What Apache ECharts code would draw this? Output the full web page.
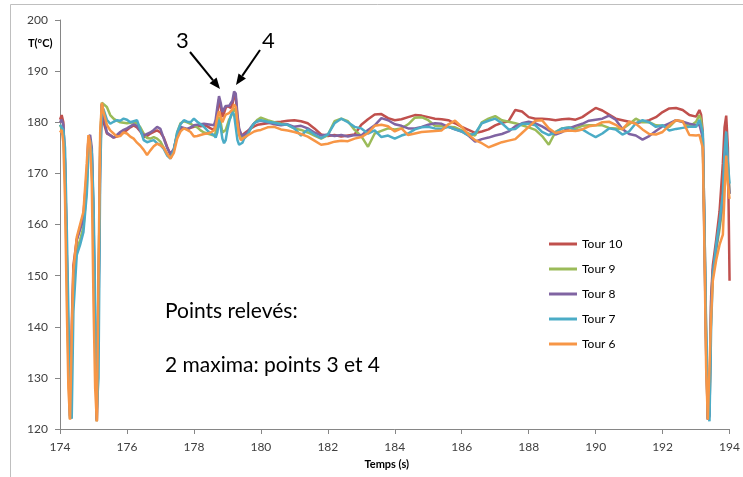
<!DOCTYPE html>
<html><head><meta charset="utf-8">
<script src="https://cdn.jsdelivr.net/npm/echarts@6/dist/echarts.min.js"></script>
<style>html,body{margin:0;padding:0;background:#fff}#c{width:743px;height:477px}</style>
</head><body><div id="c"></div>
<script>
// Time axis (s)
const timeS = [174,174.05,174.1,174.15,174.2,174.25,174.3,174.35,174.4,174.5,174.6,174.7,174.8,174.85,174.9,174.95,175,175.05,175.1,175.15,175.2,175.25,175.3,175.4,
175.5,175.6,175.7,175.8,175.9,176,176.1,176.2,176.3,176.4,176.5,176.6,176.7,176.8,176.9,177,177.1,177.2,177.3,177.4,177.5,177.6,177.7,177.8,177.9,178,178.1,178.2,178.3,178.4,178.5,
178.55,178.6,178.65,178.7,178.75,178.8,178.85,178.9,178.95,179,179.05,179.1,179.15,179.2,179.25,179.3,179.35,179.4,179.45,179.5,
179.6,179.7,179.8,179.9,180,
180.2,180.4,180.6,180.8,181,181.2,181.4,181.6,181.8,182,182.2,182.4,182.6,182.8,183,183.2,183.4,183.6,183.8,184,184.2,
184.4,184.6,184.8,185,185.2,185.4,185.6,185.8,186,186.2,186.4,186.6,186.8,187,187.2,187.4,187.6,187.8,188,188.2,188.4,188.6,188.8,189,189.2,
189.4,189.6,189.8,190,190.2,190.4,190.6,190.8,191,191.2,191.4,191.6,191.8,192,192.2,192.4,192.6,192.8,193,
193.1,193.15,193.2,193.25,193.3,193.35,193.4,193.45,193.5,193.6,193.7,193.8,193.85,193.9,193.95,194];

const tour10 = [180.5,181.4,180,172,155,135,122,140,152,157,159.5,162,170,177,176.5,174,160,138,121.5,145,175,183.5,180,177.8,
177.5,177.0,177.2,177.5,178.0,178.5,179.0,179.4,179.0,178.2,177.1,177.3,177.8,178.1,178.4,178.0,177.0,175.2,173.6,174.6,177.5,178.5,178.8,178.6,178.9,179.1,179.3,179.2,179.3,179.2,178.8,
178.7,178.5,179.5,181.5,184.5,183.0,181.0,181.8,182.8,183.2,183.0,182.8,183.5,185.2,184.8,181.0,178.5,177.8,177.4,177.8,
178.3,178.8,179.2,179.5,179.6,
179.8,180.0,180.1,180.3,180.4,180.2,179.8,178.8,177.6,177.3,177.5,177.2,177.4,177.6,179.5,180.6,181.5,181.6,180.8,180.4,180.6,
181.0,181.4,181.3,181.0,180.7,180.6,180.4,179.8,179.1,178.5,177.9,178.2,178.6,179.4,179.9,180.2,182.4,182.1,181.0,180.7,180.7,180.6,180.4,180.6,180.7,
180.5,181.0,181.9,182.8,182.3,181.5,180.7,180.4,180.1,179.8,180.1,180.4,181.0,182.0,182.7,182.8,182.4,181.4,181.1,
182.4,181.5,178,160,138,122,125,146,152,157,162.5,172,179,181.3,175,149];

const tour9 = [179.5,179.8,178,170,152,133,122,133,148,155,157,159.5,167,175,176,172,158,137,121.5,145,176,183.8,184,183,
181.4,180.7,180.3,180.0,179.9,179.8,179.9,180.0,179.8,179.0,177.8,176.9,176.8,177.1,176.8,176.2,175.0,173.8,173.0,174.5,178.0,179.8,180.2,180.0,179.7,179.3,179.0,178.4,178.0,177.8,177.6,
177.6,177.4,178.0,179.5,181.0,180.0,178.0,177.8,178.5,179.5,180.5,181.0,181.8,182.7,182.0,179.5,177.8,177.2,176.8,177.0,
177.8,178.8,179.8,180.5,180.9,
180.4,180.0,179.7,179.5,178.8,178.5,178.0,177.4,176.8,177.5,180.2,180.7,180.2,178.5,177.3,175.2,177.8,178.3,178.8,178.6,178.8,
179.6,180.9,181.0,180.4,179.3,179.2,179.1,179.0,178.4,177.8,177.4,180.0,180.7,181.2,180.4,180.1,179.8,179.4,179.0,178.5,177.3,175.6,178.1,178.8,179.0,
178.8,179.3,179.4,179.4,179.4,178.9,178.8,178.7,179.6,180.7,180.0,180.0,179.4,179.3,179.1,180.4,180.1,179.1,180.1,
181.4,180.5,177,158,136,122,123,144,150.5,155,159,164,170,175.5,172,166];

const tour8 = [180,180.5,179.5,172,155,137,122.5,135,150,157,159,161,169,177,177.5,175,162,140,121.8,142,173,183.5,181.5,178,
177.4,177.0,177.5,178.1,178.5,178.8,179.2,179.6,179.3,178.3,177.4,177.7,178.0,178.5,179.1,178.7,176.8,175.0,173.8,174.8,177.5,179.1,178.9,178.7,179.0,179.4,179.5,179.6,179.7,179.6,179.5,
179.5,179.4,180.5,183.0,185.1,183.8,182.0,182.6,183.2,183.0,183.2,183.4,184.2,186.0,185.6,181.5,178.8,177.8,177.3,177.4,
178.0,179.0,179.8,180.2,180.3,
180.0,179.6,179.4,179.6,179.1,179.3,178.8,178.0,177.4,177.6,177.3,177.5,177.2,177.5,177.4,178.5,179.4,180.8,180.4,179.6,179.3,
178.8,178.8,179.1,179.5,179.8,179.7,179.1,178.6,178.2,177.4,176.2,176.7,177.0,177.4,177.7,178.2,179.2,179.8,180.1,179.8,179.2,178.4,177.6,178.1,178.8,
179.3,179.7,180.3,180.5,180.7,181.3,180.5,178.7,177.7,177.4,176.6,177.3,178.3,179.2,179.8,180.4,180.1,179.7,179.4,
179.5,179.4,177,157,135,121.8,122.5,145,151,155.5,160,165,172,177,171,166];

const tour7 = [179.5,179.5,178.5,175,160,143,125,122,143,154,156,158.5,166,174,176.5,174,165,145,124,130,170,183,182.5,180.5,
179.7,180.1,180.4,180.3,180.7,180.5,180.0,180.2,180.4,178.6,176.5,176.1,176.3,176.5,175.9,175.5,174.8,173.5,172.9,174.6,178.0,179.6,180.4,180.1,180.0,180.7,180.1,179.6,179.1,178.4,177.8,
177.6,177.5,177.0,178.0,180.5,179.0,176.8,175.9,176.5,178.5,180.0,181.2,182.0,181.5,179.0,176.5,175.6,175.5,176.0,176.8,
177.5,178.8,179.8,180.2,180.4,
180.1,179.9,179.6,179.5,178.8,177.4,178.6,177.6,176.9,177.6,179.8,180.7,180.0,179.1,178.8,177.8,178.4,177.1,177.4,176.8,177.4,
177.8,178.6,179.0,179.1,178.8,178.7,179.1,178.6,178.2,177.4,177.8,179.8,180.3,180.7,179.8,178.6,178.7,179.7,179.7,179.4,178.1,177.5,178.0,178.8,179.0,
178.4,178.6,177.8,177.1,177.8,178.8,178.6,177.6,178.2,179.8,180.4,180.0,179.1,179.4,178.4,178.7,178.9,179.1,179.1,
180.5,180.2,178,160,140,124,121.5,140,150,156,160.5,166,174,178.2,172,168];

const tour6 = [178,178.5,176,165,145,128,121.8,138,151,157.5,160,162.5,172,177.5,176,168,145,128,121.5,150,178,183.8,182,179.5,
178.4,177.8,177.2,177.3,178.0,177.8,177.2,176.8,176.0,175.4,174.6,173.6,174.5,175.3,175.8,175.5,175.0,173.8,172.9,174.0,176.8,178.2,178.8,178.5,178.1,177.2,177.3,177.5,177.7,177.8,178.0,
178.0,178.4,179.2,181.0,182.2,181.0,180.0,180.8,181.5,181.6,181.8,182.0,182.5,183.5,183.0,180.0,177.5,176.5,176.6,177.0,
177.4,177.8,178.2,178.4,178.5,
179.0,179.1,178.6,178.4,178.1,177.7,177.2,176.4,175.6,175.8,176.2,176.4,176.3,176.8,177.1,177.9,179.3,179.5,179.2,178.2,178.8,
177.5,177.8,178.1,178.2,178.3,178.4,179.6,180.3,179.1,177.6,176.5,175.9,175.1,175.6,176.1,176.4,176.7,177.9,179.1,180.3,180.4,178.8,177.9,178.2,178.4,
178.3,178.6,179.2,179.4,180.0,180.1,179.5,178.6,180.1,179.7,178.6,177.7,177.6,178.1,179.4,180.4,180.2,177.5,177.4,
177.5,177.3,175,155,132,121.8,122,142,149,153,156,158,166,173.5,168,165];

const seriesNames = ['Tour 10','Tour 9','Tour 8','Tour 7','Tour 6'];
const seriesValues = [tour10, tour9, tour8, tour7, tour6];
const seriesColors = ['#C0504D','#9BBB59','#8064A2','#4BACC6','#F79646'];

const FONT = 'Lato, "Liberation Sans", sans-serif';
const chart = echarts.init(document.getElementById('c'), null, {renderer:'canvas'});

const series = seriesNames.map((name, k) => ({
  name: name,
  type: 'line',
  data: timeS.map((t, i) => [t, seriesValues[k][i]]),
  showSymbol: false,
  symbol: 'none',
  lineStyle: {width: 2.5, color: seriesColors[k]},
  itemStyle: {color: seriesColors[k]},
  clip: true,
  z: 2 + k
}));

function arrowHead(tip, from, len, half) {
  const dx = tip[0]-from[0], dy = tip[1]-from[1];
  const L = Math.sqrt(dx*dx+dy*dy);
  const ux = dx/L, uy = dy/L;
  const bx = tip[0]-ux*len, by = tip[1]-uy*len;
  return {base:[bx,by], pts:[tip,[bx-uy*half, by+ux*half],[bx+uy*half, by-ux*half]]};
}
const a3 = arrowHead([220,89],[190,52],11,4.5);
const a4 = arrowHead([236,85],[260,50],11,4.5);

chart.setOption({
  animation: false,
  backgroundColor: '#ffffff',
  grid: {left: 60, right: 13, top: 20, bottom: 48, containLabel: false},
  xAxis: {
    type: 'value', min: 174, max: 194, interval: 2,
    name: 'Temps (s)', nameLocation: 'middle', nameGap: 30,
    nameTextStyle: {fontFamily: FONT, fontSize: 11, fontWeight: 'bold', color: '#000', padding: [0,16,0,0]},
    axisLine: {show: true, lineStyle: {color: '#868686', width: 1}},
    axisTick: {show: true, length: 5, lineStyle: {color: '#868686'}},
    axisLabel: {fontFamily: FONT, fontSize: 12, color: '#404040', margin: 12},
    splitLine: {show: false}
  },
  yAxis: {
    type: 'value', min: 120, max: 200, interval: 10,
    axisLine: {show: true, lineStyle: {color: '#868686', width: 1}},
    axisTick: {show: true, length: 5, lineStyle: {color: '#868686'}},
    axisLabel: {fontFamily: FONT, fontSize: 12, color: '#404040', margin: 12},
    splitLine: {show: false}
  },
  legend: {
    orient: 'vertical', left: 544, top: 233,
    icon: 'rect', itemWidth: 28, itemHeight: 3, itemGap: 13,
    textStyle: {fontFamily: FONT, fontSize: 12, color: '#000'},
    data: seriesNames
  },
  graphic: [
    {type: 'rect', shape: {x: 10.5, y: 4.5, width: 760, height: 520}, style: {fill: 'none', stroke: '#bfbfbf', lineWidth: 1}, silent: true},
    {type: 'text', left: 28, top: 38, style: {text: 'T(°C)', font: 'bold 11px ' + FONT, fill: '#000'}},
    {type: 'text', left: 165, top: 301, style: {text: 'Points relevés:', font: '21px ' + FONT, fill: '#000'}},
    {type: 'text', left: 165, top: 355, style: {text: '2 maxima: points 3 et 4', font: '21px ' + FONT, fill: '#000'}},
    {type: 'text', left: 176, top: 30, style: {text: '3', font: '22px ' + FONT, fill: '#000'}},
    {type: 'text', left: 262, top: 30, style: {text: '4', font: '22px ' + FONT, fill: '#000'}},
    {type: 'line', shape: {x1: 190, y1: 52, x2: a3.base[0], y2: a3.base[1]}, style: {stroke: '#000', lineWidth: 2}, z: 100},
    {type: 'polygon', shape: {points: a3.pts}, style: {fill: '#000'}, z: 100},
    {type: 'line', shape: {x1: 260, y1: 50, x2: a4.base[0], y2: a4.base[1]}, style: {stroke: '#000', lineWidth: 2}, z: 100},
    {type: 'polygon', shape: {points: a4.pts}, style: {fill: '#000'}, z: 100}
  ],
  series: series
});
</script>
</body></html>
